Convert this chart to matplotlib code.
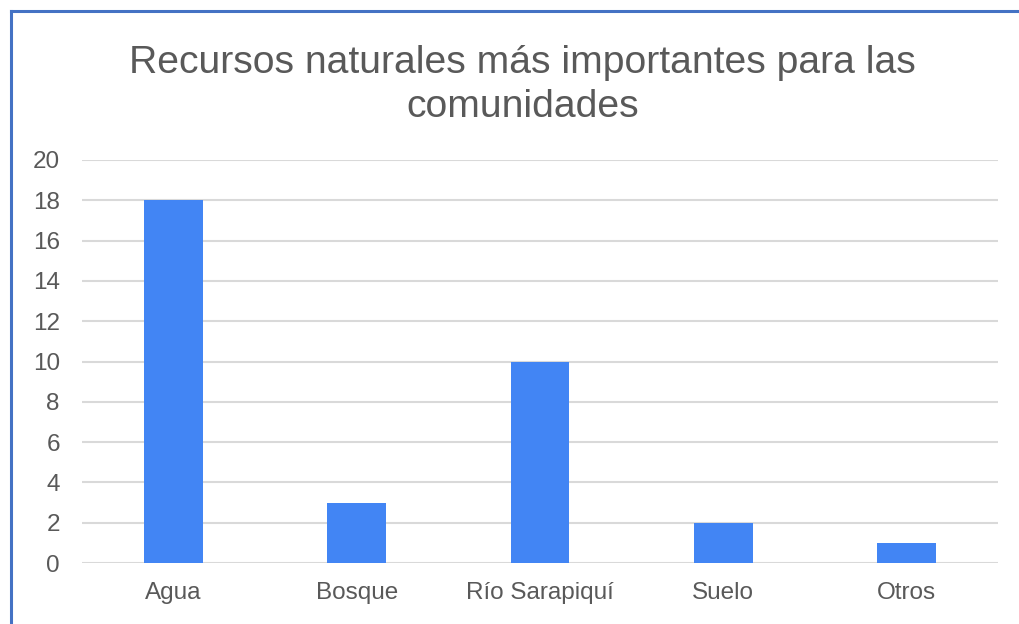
import matplotlib
matplotlib.use("Agg")
import matplotlib.pyplot as plt
from matplotlib.lines import Line2D

categories = ["Agua", "Bosque", "Río Sarapiquí", "Suelo", "Otros"]
values = [18, 3, 10, 2, 1]
yticks = [0, 2, 4, 6, 8, 10, 12, 14, 16, 18, 20]
title = "Recursos naturales más importantes para las\ncomunidades"

plt.rcParams['font.family'] = ['Liberation Sans', 'DejaVu Sans']

fig = plt.figure(figsize=(10.2, 6.24), dpi=100)
W, H = 1020, 624
ax = fig.add_axes([82 / W, 1 - 563 / H, (998 - 82) / W, (563 - 160) / H])

x = list(range(len(categories)))
ax.bar(x, values, width=0.32, color="#4285F4", zorder=3)
ax.set_xlim(-0.5, len(categories) - 0.5)
ax.set_ylim(0, 20)
ax.set_yticks(yticks)
ax.set_xticks(x)
ax.set_xticklabels(categories)
ax.grid(axis="y", color="#d9d9d9", linewidth=1.5, zorder=0)
for s in ax.spines.values():
    s.set_visible(False)
ax.tick_params(axis="both", length=0, labelsize=17.5, colors="#595959")
ax.tick_params(axis="y", pad=16)
ax.tick_params(axis="x", pad=14)

fig.text(0.512, 1 - 85 / H, title, ha="center", va="center", fontsize=28.2,
         color="#595959", linespacing=1.32)

# partial blue frame (top and left)
fig.add_artist(Line2D([11 / W, 1], [1 - 11 / H, 1 - 11 / H], color="#4472C4", lw=2.2,
                      transform=fig.transFigure))
fig.add_artist(Line2D([11 / W, 11 / W], [0, 1 - 11 / H], color="#4472C4", lw=2.2,
                      transform=fig.transFigure))

fig.savefig("out.png", dpi=100)
